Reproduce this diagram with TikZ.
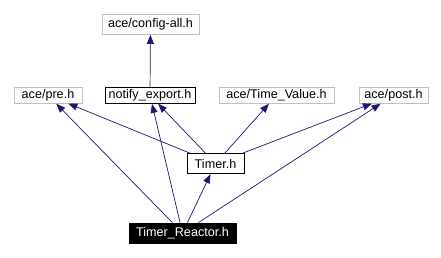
\documentclass[tikz,border=0pt]{standalone}
\usepackage{fontspec}
\setmainfont{Liberation Sans}
\usetikzlibrary{arrows.meta}
\definecolor{edgeblue}{HTML}{191970}
\definecolor{boxgray}{HTML}{BFBFBF}
\begin{document}
\begin{tikzpicture}[x=1pt,y=-1pt,
  file/.style={draw=boxgray, line width=0.8pt, fill=white, inner sep=0pt,
    font=\fontsize{12.6}{14}\selectfont, anchor=center},
  docfile/.style={file, draw=black},
  current/.style={file, draw=black, fill=black, text=white},
  dep/.style={draw=edgeblue, line width=0.7pt,
    -{Triangle[length=9pt,width=7pt]}, shorten >=0.5pt}]
\useasboundingbox (0,0) rectangle (441,257);

% include nodes
\node[file, minimum width=97pt, minimum height=20pt] (cfg) at (150.5,24) {ace/config-all.h};
\node[file, minimum width=68pt, minimum height=15.5pt] (pre) at (48,95.25) {ace/pre.h};
\node[docfile, minimum width=90pt, minimum height=15.5pt] (notify) at (150,95.25) {notify\_export.h};
\node[file, minimum width=115pt, minimum height=15.5pt] (tv) at (276.5,95.25) {ace/Time\_Value.h};
\node[file, minimum width=69pt, minimum height=15.5pt] (post) at (393.5,95.25) {ace/post.h};
\node[docfile, minimum width=57pt, minimum height=19.5pt] (timer) at (215.5,163.6) {Timer.h};
\node[current, minimum width=107pt, minimum height=20pt] (tr) at (182.5,233) {Timer\_Reactor.h};

% dependency edges
\draw[dep] (notify) -- (cfg);
\draw[dep] (timer) -- (pre);
\draw[dep] (timer) -- (notify);
\draw[dep] (timer) -- (tv);
\draw[dep] (timer) -- (post);
\draw[dep] (tr) -- (pre);
\draw[dep] (tr) -- (notify);
\draw[dep] (tr) -- (timer);
\draw[dep] (tr) -- (post);
\end{tikzpicture}
\end{document}
